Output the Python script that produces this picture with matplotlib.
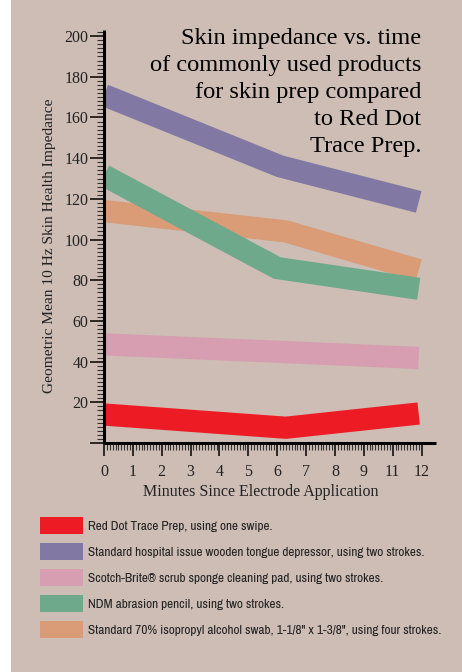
import numpy as np
import matplotlib
matplotlib.use("Agg")
import matplotlib.pyplot as plt
from matplotlib import font_manager
from matplotlib.patches import Patch, Rectangle
from matplotlib.ticker import FixedLocator, MultipleLocator

# tick positions on the time axis and their labels (original skips "10")
x_tick_pos = list(range(12))
x_tick_labels = ["0", "1", "2", "3", "4", "5", "6", "7", "8", "9", "11", "12"]

# each band: start, knee, end
times_red = [0, 6.3, 10.9]
times_blue = [0, 6.1, 10.9]
times_pink = [0, 6.1, 10.9]
times_green = [0, 6.0, 10.9]
times_orange = [0, 6.3, 10.9]

red_vals = [14, 7.5, 14.5]
blue_vals = [171, 136, 118.5]
pink_vals = [48.5, 44.8, 41.8]
green_vals = [131.5, 86, 75.8]
orange_vals = [114, 104, 85]

labels = [
    "Red Dot Trace Prep, using one swipe.",
    "Standard hospital issue wooden tongue depressor, using two strokes.",
    "Scotch-Brite\u00ae scrub sponge cleaning pad, using two strokes.",
    "NDM abrasion pencil, using two strokes.",
    "Standard 70% isopropyl alcohol swab, 1-1/8\" x 1-3/8\", using four strokes.",
]
colors = ["#ed1c24", "#8179a3", "#d69eb0", "#6fa98c", "#d99c76"]

bg = "#cdbdb5"
serif = ["Liberation Serif", "DejaVu Serif"]

# legend text is a narrow sans; use one if it is installed
narrow = [f.name for f in font_manager.fontManager.ttflist
          if "Narrow" in f.name or "Condensed" in f.name]
if narrow:
    leg_family = [narrow[0], "Liberation Sans"]
    leg_fs = 9.6
else:
    leg_family = ["Liberation Sans", "DejaVu Sans"]
    leg_fs = 7.6

fig = plt.figure(figsize=(4.62, 6.72), dpi=100, facecolor="white")
fig.add_artist(Rectangle((11 / 462, 0), 1, 1, transform=fig.transFigure,
                         facecolor=bg, edgecolor="none", zorder=-10))

ax = fig.add_axes([104 / 462, 1 - 443 / 672, (436 - 104) / 462, (443 - 30) / 672])
ax.patch.set_alpha(0)

lw = 16
band_style = dict(solid_capstyle="butt", solid_joinstyle="miter")
ax.plot(times_blue, blue_vals, color=colors[1], lw=lw, **band_style)
ax.plot(times_orange, orange_vals, color=colors[4], lw=lw, **band_style)
ax.plot(times_green, green_vals, color=colors[3], lw=lw, **band_style)
ax.plot(times_pink, pink_vals, color=colors[2], lw=lw, **band_style)
ax.plot(times_red, red_vals, color=colors[0], lw=lw, **band_style)

ax.set_xlim(0, 11.5)
ax.set_ylim(0, 203)

for s in ["top", "right"]:
    ax.spines[s].set_visible(False)
for s in ["left", "bottom"]:
    ax.spines[s].set_linewidth(2.2)
    ax.spines[s].set_color("black")
    ax.spines[s].set_capstyle("butt")

ax.xaxis.set_major_locator(FixedLocator(x_tick_pos))
ax.set_xticklabels(x_tick_labels)
ax.xaxis.set_minor_locator(FixedLocator(np.arange(0, 11.01, 0.1)))
ax.yaxis.set_minor_locator(MultipleLocator(2))
ax.set_yticks(range(0, 201, 20))
ax.set_yticklabels([""] + [str(v) for v in range(20, 201, 20)])

ax.tick_params(which="major", direction="out", length=10, width=1.1, color="black",
               labelsize=11.5, labelcolor="#222222")
ax.tick_params(which="minor", direction="out", length=5, width=0.8, color="#333333")
ax.tick_params(axis="x", which="major", length=9, pad=6)
ax.tick_params(axis="y", which="major", pad=1)
for t in ax.get_xticklabels() + ax.get_yticklabels():
    t.set_family(serif)

ax.set_xlabel("Minutes Since Electrode Application", family=serif, fontsize=11.5,
              color="#222222")
ax.xaxis.set_label_coords(0.471, -0.1)
ax.set_ylabel("Geometric Mean 10 Hz Skin Health Impedance", family=serif,
              fontsize=11.1, color="#222222")
ax.yaxis.set_label_coords(-0.145, 0.477)

fig.text(421 / 462, 1 - 28 / 672,
         "Skin impedance vs. time\nof commonly used products\nfor skin prep compared\nto Red Dot\nTrace Prep.",
         ha="right", va="top", family=serif, fontsize=17.6, linespacing=1.37,
         color="black")

# legend swatches: 43 x 17 px, rows 26 px apart
fs_px = leg_fs * 100 / 72
hh = (17 / fs_px - 0.245) / 0.65
handles = [Patch(facecolor=c, edgecolor="none") for c in colors]
fig.legend(handles, labels, loc="upper left", bbox_to_anchor=(40 / 462, 1 - 517 / 672),
           frameon=False, prop={"family": leg_family, "size": leg_fs},
           handlelength=43 / fs_px, handleheight=hh, handletextpad=5 / fs_px,
           labelspacing=9 / fs_px, borderpad=0, borderaxespad=0,
           labelcolor="#222222")

fig.savefig("out.png", dpi=100, facecolor=fig.get_facecolor())
